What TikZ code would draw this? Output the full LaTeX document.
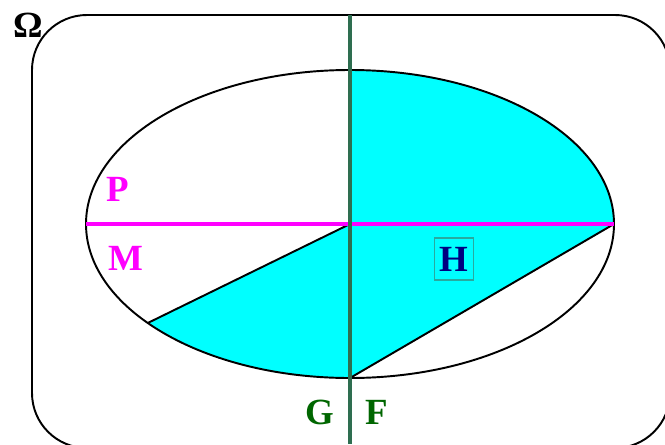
\documentclass[tikz,border=0pt]{standalone}
\usepackage{fontspec}
\setmainfont{Liberation Serif}
\usetikzlibrary{calc}
\definecolor{aqua}{RGB}{0,255,255}
\definecolor{mag}{RGB}{255,0,255}
\definecolor{axisgreen}{RGB}{46,110,80}
\definecolor{letgreen}{RGB}{0,102,0}
\definecolor{navy}{RGB}{0,0,128}
\definecolor{boxteal}{RGB}{40,170,160}
\tikzset{lab/.style={font=\fontsize{21}{24}\selectfont\bfseries,inner sep=0pt}}

\begin{document}
\begin{tikzpicture}[x=0.02cm,y=0.02cm,line width=1.1pt]
    \useasboundingbox (0,0) rectangle (665,444);
    \clip (0,0) rectangle (665,444);
    \coordinate (O) at (350,220);
    \coordinate (T) at ($(O)+(90:264 and 154)$);
    \coordinate (R) at ($(O)+(0:264 and 154)$);
    \coordinate (B) at ($(O)+(270:264 and 154)$);
    \coordinate (L) at ($(O)+(220:264 and 154)$);
    \coordinate (W) at ($(O)+(180:264 and 154)$);
    % universe
    \draw[rounded corners=1.1cm] (32,-4) rectangle (670,429);
    \node[lab] (omega) at (28,419) {Ω};
    % shaded parts
    \fill[aqua] (O) -- (T) arc[start angle=90,end angle=0,x radius=264,y radius=154] -- cycle;
    \fill[aqua] (O) -- (L) arc[start angle=220,end angle=270,x radius=264,y radius=154] -- cycle;
    \fill[aqua] (O) -- (R) -- (B) -- cycle;
    % ellipse and chords
    \draw (O) ellipse[x radius=264,y radius=154];
    \draw (O) -- (L);
    \draw (R) -- (B);
    \draw[mag,line width=2.2pt] (W) -- (R);
    \draw[axisgreen,line width=2.4pt] (350,429) -- (350,0);
    % labels
    \node[lab,text=mag] (p) at (118,255) {P};
    \node[lab,text=mag] (m) at (126,186) {M};
    \node[lab,text=navy,draw=boxteal,line width=0.8pt,inner xsep=3pt,inner ysep=5pt] (h) at (454,185) {H};
    \node[lab,text=letgreen] (g) at (320,32) {G};
    \node[lab,text=letgreen] (f) at (377,32) {F};
\end{tikzpicture}
\end{document}
